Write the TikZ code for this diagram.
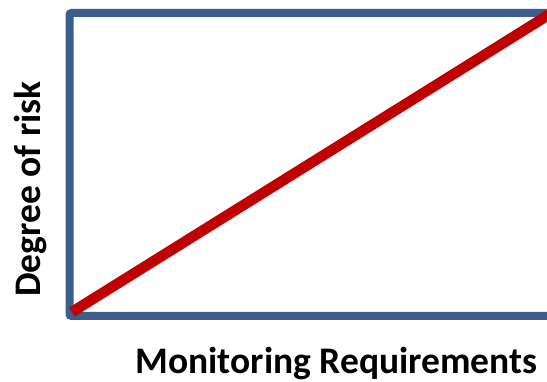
\documentclass[tikz,border=0pt]{standalone}
\usepackage{fontspec}
\setmainfont{Carlito}
\definecolor{frameblue}{HTML}{3B5E8C}
\definecolor{riskred}{HTML}{C00000}
\tikzset{
  frame/.style={draw=frameblue, line width=8pt, rounded corners=2pt},
  trend/.style={draw=riskred, line width=10.5pt},
  axislabel/.style={font=\bfseries\fontsize{37.5}{41}\selectfont, text=black, inner sep=0pt, anchor=base}
}
\begin{document}
\begin{tikzpicture}[x=1pt,y=-1pt]
  \useasboundingbox (0,0) rectangle (547,382);
  \begin{scope}
    \clip (0,0) rectangle (547,382);
    % chart frame
    \draw[frame] (69.5,13) rectangle (551,316);
    % risk trend line
    \coordinate (lo) at (72,312);
    \coordinate (hi) at (550,14);
    \draw[trend] (lo) -- (hi);
  \end{scope}
  % axis titles
  \node[axislabel, rotate=90] (ylab) at (40,189) {Degree of risk};
  \node[axislabel] (xlab) at (336.5,374) {Monitoring Requirements};
\end{tikzpicture}
\end{document}
